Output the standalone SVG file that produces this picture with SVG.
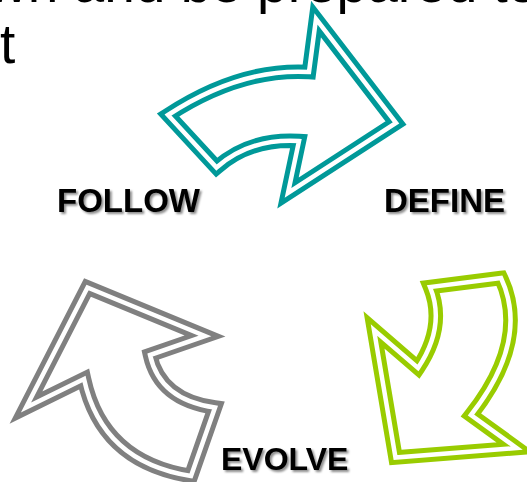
<svg xmlns="http://www.w3.org/2000/svg" width="527" height="482" viewBox="0 0 527 482">
  <defs>
    <style>
      .body { font-family: "Liberation Sans", Arial, sans-serif; font-size: 55px; fill: #000; }
      .label { font-family: "Liberation Sans", Arial, sans-serif; font-weight: bold; font-size: 33px; fill: #000; filter: url(#shadow); }
      .band { fill: #fff; stroke-width: 14.5; stroke-linejoin: miter; stroke-miterlimit: 20; }
      .gap { fill: none; stroke: #fff; stroke-width: 4.5; stroke-linejoin: miter; stroke-miterlimit: 20; }
      .teal { stroke: #009999; }
      .green { stroke: #99cc00; }
      .grey { stroke: #808080; }
    </style>
    <filter id="shadow" x="-10%" y="-20%" width="130%" height="150%">
      <feDropShadow dx="2" dy="2" stdDeviation="1" flood-color="#000" flood-opacity="0.45"/>
    </filter>
    <path id="arrow-define" d="M168,115 Q240,68 309,72 L316,19 L396,123 L288,193 L299,141 Q250,138 216.5,167.5 Z"/>
    <path id="arrow-evolve" d="M501,278 L430,287 Q446,326 418,368 L374,330 L395.5,457.5 L516.5,448 L471,415 Q530,340 501,278 Z"/>
    <path id="arrow-follow" d="M87.5,287.5 L205,336 L150,355 Q160,400 215,407.5 L191,476 Q102,462 84,379 L26,407.5 Z"/>
  </defs>

  <rect width="527" height="482" fill="#fff"/>

  <!-- body text running above the cycle -->
  <g id="body-text">
    <text class="body" x="-12" y="1.5">wn and be prepared to</text>
    <text class="body" x="0" y="63">t</text>
  </g>

  <!-- curved double-outline arrows linking the stages -->
  <g id="connectors">
    <g id="follow-to-define">
      <use href="#arrow-define" class="band teal"/>
      <use href="#arrow-define" class="gap"/>
    </g>
    <g id="define-to-evolve">
      <use href="#arrow-evolve" class="band green"/>
      <use href="#arrow-evolve" class="gap"/>
    </g>
    <g id="evolve-to-follow">
      <use href="#arrow-follow" class="band grey"/>
      <use href="#arrow-follow" class="gap"/>
    </g>
  </g>

  <g id="follow">
    <text class="label" x="57" y="212">FOLLOW</text>
  </g>
  <g id="define">
    <text class="label" x="384" y="212">DEFINE</text>
  </g>
  <g id="evolve">
    <text class="label" x="221" y="470" style="font-size:32px">EVOLVE</text>
  </g>
</svg>
